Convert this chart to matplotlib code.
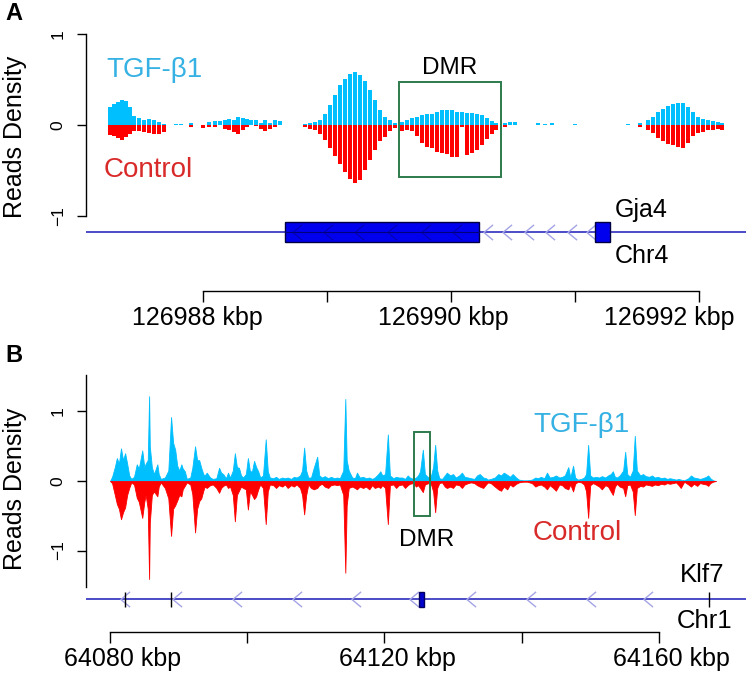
import matplotlib
matplotlib.use('Agg')
import matplotlib.pyplot as plt
import matplotlib.transforms as mtransforms
from matplotlib.path import Path
from matplotlib.patches import Rectangle

plt.rcParams['font.family'] = ['Liberation Sans', 'DejaVu Sans']

# ---------------- panel A data: Gja4 locus, Chr4 (kbp) ----------------
a_pos = [126987.250, 126987.282, 126987.315, 126987.347, 126987.379, 126987.411, 126987.444,
         126987.484, 126987.524, 126987.565, 126987.605, 126987.645, 126987.685, 126987.782,
         126987.823, 126987.903, 126988.000, 126988.048, 126988.097, 126988.137, 126988.177,
         126988.210, 126988.250, 126988.282, 126988.323, 126988.355, 126988.387, 126988.427,
         126988.468, 126988.500, 126988.540, 126988.581, 126988.621,
         126988.823, 126988.863, 126988.903, 126988.944, 126988.984, 126989.024, 126989.065,
         126989.105, 126989.145, 126989.185, 126989.226, 126989.266, 126989.306, 126989.347,
         126989.387, 126989.427, 126989.468, 126989.508, 126989.548,
         126989.605, 126989.645, 126989.685, 126989.726, 126989.766, 126989.806, 126989.847,
         126989.887, 126989.927, 126989.968, 126990.008, 126990.048, 126990.089, 126990.129,
         126990.169, 126990.210, 126990.250, 126990.290, 126990.331, 126990.363,
         126990.435, 126990.476, 126990.516, 126990.702, 126990.758, 126990.815, 126991.000,
         126991.427, 126991.524, 126991.589, 126991.629, 126991.669, 126991.710, 126991.750,
         126991.790, 126991.831, 126991.871, 126991.911, 126991.952, 126991.992, 126992.032,
         126992.073, 126992.113, 126992.153, 126992.185]
a_tgf = [0.20, 0.23, 0.25, 0.27, 0.26, 0.20, 0.10,
         0.08, 0.06, 0.07, 0.05, 0.03, 0.01, 0.01,
         0.01, 0.02, 0.00, 0.03, 0.04, 0.04, 0.06,
         0.07, 0.05, 0.09, 0.08, 0.07, 0.06, 0.05,
         0.02, 0.05, 0.02, 0.05, 0.04,
         0.01, 0.02, 0.03, 0.06, 0.12, 0.22, 0.33,
         0.44, 0.51, 0.56, 0.58, 0.55, 0.48, 0.38,
         0.27, 0.16, 0.09, 0.05, 0.02,
         0.03, 0.05, 0.08, 0.09, 0.11, 0.12, 0.12,
         0.14, 0.16, 0.17, 0.16, 0.14, 0.14, 0.13,
         0.13, 0.12, 0.11, 0.08, 0.04, 0.02,
         0.02, 0.03, 0.03, 0.02, 0.01, 0.02, 0.01,
         0.01, 0.02, 0.05, 0.09, 0.14, 0.18, 0.21,
         0.23, 0.24, 0.24, 0.20, 0.14, 0.09, 0.07,
         0.05, 0.04, 0.03, 0.02]
a_ctl = [-0.11, -0.12, -0.14, -0.16, -0.13, -0.10, -0.07,
         -0.07, -0.08, -0.09, -0.10, -0.10, -0.08, 0.00,
         0.00, -0.02, -0.03, -0.02, -0.02, 0.00, -0.04,
         -0.05, -0.08, -0.10, -0.06, -0.02, 0.00, -0.01,
         -0.04, -0.07, -0.04, -0.02, 0.00,
         -0.02, -0.04, -0.05, -0.10, -0.16, -0.25, -0.34,
         -0.43, -0.52, -0.59, -0.64, -0.60, -0.50, -0.39,
         -0.28, -0.18, -0.13, -0.07, -0.03,
         -0.07, -0.05, -0.07, -0.12, -0.20, -0.24, -0.25,
         -0.30, -0.31, -0.32, -0.35, -0.35, -0.02, -0.33,
         -0.31, -0.28, -0.22, -0.15, -0.10, -0.06,
         -0.02, 0.00, 0.00, 0.00, 0.00, 0.00, 0.00,
         0.00, -0.02, -0.05, -0.09, -0.14, -0.18, -0.21,
         -0.22, -0.24, -0.25, -0.20, -0.12, -0.09, -0.08,
         -0.06, -0.05, -0.04, -0.05]

a_exons = [(126988.661, 126990.226), (126991.161, 126991.282)]
a_arrows_out = [126990.298, 126990.452, 126990.629, 126990.798, 126990.976, 126991.129]
a_arrows_in = [126988.758, 126989.008, 126989.258, 126989.524, 126989.798, 126990.048]
a_dmr = (126989.58, 126990.40, -0.57, 0.47)
a_ticks = [126988, 126989, 126990, 126991, 126992]
a_ticklabels = ['126988 kbp', '', '126990 kbp', '', '126992 kbp']

# ---------------- panel B data: Klf7 locus, Chr1 (kbp) ----------------
b_pos = [64080.0, 64080.3, 64080.7, 64081.0, 64081.3, 64081.6, 64081.9, 64082.2, 64082.5, 64082.8,
         64083.1, 64083.5, 64083.9, 64084.2, 64084.7, 64085.0, 64085.2, 64085.5, 64085.7, 64085.8,
         64086.1, 64086.4, 64086.9, 64087.1, 64087.4, 64088.0, 64088.5, 64088.9, 64089.2, 64089.5,
         64089.8, 64090.1, 64090.4, 64090.6, 64090.9, 64091.2, 64091.7, 64092.0, 64092.4, 64092.7,
         64093.0, 64093.3, 64093.6, 64093.8, 64094.1, 64094.6, 64095.0, 64095.5, 64095.9, 64096.2,
         64096.5, 64096.9, 64097.2, 64097.5, 64097.9, 64098.2, 64098.5, 64098.8, 64099.1, 64099.4,
         64099.8, 64100.1, 64100.4, 64100.7, 64101.0, 64101.3, 64101.6, 64101.9, 64102.3, 64102.7,
         64103.0, 64103.3, 64103.8, 64104.2, 64104.6, 64105.1, 64105.5, 64105.9, 64106.4, 64106.8,
         64107.2, 64107.7, 64108.0, 64108.3, 64108.6, 64108.9, 64109.3, 64109.7, 64110.2, 64110.5,
         64110.9, 64111.3, 64111.8, 64112.2, 64112.7, 64113.1, 64113.5, 64114.0, 64114.3, 64114.5,
         64114.8, 64115.3, 64115.7, 64116.0, 64116.4, 64116.9, 64117.3, 64117.8, 64118.2, 64118.6,
         64119.1, 64119.4, 64119.7, 64120.1, 64120.5, 64120.8, 64121.3, 64121.7, 64122.1, 64122.6,
         64123.0, 64123.4, 64123.7, 64124.2, 64124.6, 64124.9, 64125.2, 64125.6, 64125.9, 64126.4,
         64126.8, 64127.1, 64127.4, 64127.7, 64128.0, 64128.4, 64128.8, 64129.1, 64129.6, 64130.0,
         64130.4, 64130.9, 64131.3, 64131.7, 64132.2, 64132.6, 64133.1, 64133.5, 64133.9, 64134.4,
         64134.8, 64135.1, 64135.5, 64136.1, 64136.6, 64137.0, 64137.4, 64137.9, 64138.3, 64138.7,
         64139.2, 64139.6, 64140.2, 64140.8, 64141.5, 64142.0, 64142.4, 64142.8, 64143.3, 64143.7,
         64144.1, 64144.6, 64145.0, 64145.5, 64145.9, 64146.3, 64146.8, 64147.1, 64147.5, 64147.8,
         64148.2, 64148.7, 64149.1, 64149.4, 64149.7, 64150.0, 64150.4, 64150.8, 64151.3, 64151.7,
         64152.2, 64152.6, 64153.0, 64153.3, 64153.6, 64153.9, 64154.3, 64154.8, 64155.1, 64155.4,
         64155.8, 64156.2, 64156.5, 64156.8, 64157.3, 64157.7, 64158.1, 64158.6, 64159.0, 64159.4,
         64159.9, 64160.3, 64160.8, 64161.2, 64161.6, 64162.1, 64162.5, 64162.9, 64163.2, 64163.7,
         64164.3, 64164.7, 64165.1, 64165.6, 64166.0, 64166.4, 64166.9, 64167.2, 64167.5, 64167.9,
         64168.3]
b_tgf = [0.00, 0.06, 0.20, 0.33, 0.25, 0.47, 0.30, 0.40, 0.25, 0.08,
         0.03, 0.06, 0.24, 0.18, 0.44, 0.20, 0.25, 0.30, 1.22, 0.50,
         0.20, 0.10, 0.24, 0.10, 0.03, 0.05, 0.15, 0.92, 0.55, 0.45,
         0.22, 0.15, 0.24, 0.18, 0.14, 0.03, 0.05, 0.19, 0.50, 0.30,
         0.30, 0.19, 0.10, 0.08, 0.12, 0.05, 0.03, 0.04, 0.19, 0.12,
         0.10, 0.04, 0.12, 0.05, 0.15, 0.40, 0.20, 0.19, 0.08, 0.05,
         0.10, 0.33, 0.14, 0.14, 0.29, 0.20, 0.14, 0.05, 0.08, 0.60,
         0.14, 0.05, 0.04, 0.06, 0.03, 0.05, 0.04, 0.05, 0.03, 0.06,
         0.05, 0.08, 0.15, 0.48, 0.15, 0.05, 0.05, 0.19, 0.35, 0.08,
         0.05, 0.07, 0.04, 0.06, 0.04, 0.05, 0.04, 0.15, 1.18, 0.30,
         0.15, 0.05, 0.04, 0.12, 0.05, 0.06, 0.04, 0.05, 0.03, 0.05,
         0.10, 0.14, 0.08, 0.10, 0.67, 0.08, 0.04, 0.06, 0.05, 0.05,
         0.03, 0.08, 0.05, 0.03, 0.05, 0.08, 0.14, 0.45, 0.10, 0.05,
         0.08, 0.20, 0.52, 0.15, 0.04, 0.03, 0.08, 0.12, 0.08, 0.10,
         0.05, 0.08, 0.12, 0.06, 0.05, 0.04, 0.03, 0.08, 0.10, 0.05,
         0.04, 0.02, 0.03, 0.05, 0.10, 0.08, 0.12, 0.09, 0.06, 0.10,
         0.05, 0.02, 0.01, 0.01, 0.02, 0.05, 0.04, 0.06, 0.04, 0.12,
         0.05, 0.06, 0.08, 0.05, 0.06, 0.08, 0.20, 0.05, 0.22, 0.05,
         0.02, 0.03, 0.05, 0.10, 0.52, 0.08, 0.05, 0.06, 0.05, 0.07,
         0.05, 0.08, 0.10, 0.14, 0.06, 0.05, 0.08, 0.15, 0.42, 0.10,
         0.06, 0.15, 0.65, 0.15, 0.08, 0.10, 0.07, 0.06, 0.08, 0.05,
         0.06, 0.04, 0.05, 0.03, 0.04, 0.03, 0.02, 0.03, 0.02, 0.01,
         0.04, 0.08, 0.05, 0.04, 0.03, 0.04, 0.06, 0.08, 0.04, 0.01,
         0.00]
b_ctl = [0.00, -0.03, -0.20, -0.33, -0.40, -0.55, -0.45, -0.38, -0.20, -0.10,
         -0.02, -0.05, -0.24, -0.30, -0.53, -0.30, -0.20, -0.40, -1.41, -0.60,
         -0.20, -0.15, -0.22, -0.08, -0.02, -0.10, -0.25, -0.79, -0.40, -0.35,
         -0.28, -0.20, -0.22, -0.12, -0.07, -0.02, -0.05, -0.19, -0.74, -0.40,
         -0.29, -0.25, -0.14, -0.08, -0.10, -0.06, -0.05, -0.10, -0.17, -0.10,
         -0.07, -0.05, -0.10, -0.08, -0.20, -0.58, -0.20, -0.14, -0.08, -0.10,
         -0.12, -0.41, -0.15, -0.20, -0.26, -0.22, -0.12, -0.05, -0.10, -0.62,
         -0.15, -0.05, -0.06, -0.10, -0.06, -0.08, -0.05, -0.10, -0.06, -0.08,
         -0.05, -0.10, -0.20, -0.48, -0.20, -0.05, -0.10, -0.12, -0.10, -0.06,
         -0.04, -0.08, -0.10, -0.06, -0.05, -0.06, -0.05, -0.20, -1.32, -0.35,
         -0.10, -0.08, -0.10, -0.12, -0.08, -0.10, -0.08, -0.12, -0.06, -0.10,
         -0.08, -0.10, -0.06, -0.10, -0.62, -0.06, -0.05, -0.10, -0.06, -0.05,
         -0.10, -0.06, -0.04, -0.03, -0.08, -0.06, -0.10, -0.16, -0.05, -0.03,
         -0.05, -0.15, -0.45, -0.10, -0.03, -0.02, -0.08, -0.10, -0.08, -0.10,
         -0.05, -0.06, -0.10, -0.05, -0.03, -0.02, -0.03, -0.06, -0.08, -0.10,
         -0.05, -0.02, -0.03, -0.08, -0.12, -0.14, -0.08, -0.12, -0.05, -0.08,
         -0.04, -0.02, -0.01, -0.01, -0.03, -0.08, -0.06, -0.05, -0.08, -0.12,
         -0.06, -0.10, -0.14, -0.05, -0.06, -0.10, -0.12, -0.05, -0.15, -0.04,
         -0.01, -0.02, -0.05, -0.15, -0.53, -0.06, -0.03, -0.05, -0.08, -0.12,
         -0.06, -0.08, -0.15, -0.20, -0.08, -0.04, -0.08, -0.10, -0.22, -0.06,
         -0.05, -0.15, -0.49, -0.10, -0.07, -0.08, -0.05, -0.06, -0.07, -0.05,
         -0.06, -0.04, -0.05, -0.03, -0.04, -0.03, -0.02, -0.06, -0.10, -0.01,
         -0.05, -0.08, -0.04, -0.07, -0.03, -0.04, -0.05, -0.07, -0.03, -0.01,
         0.00]

b_exon_ticks = [64082.2, 64088.9, 64167.3]
b_exon = (64125.0, 64125.8)
b_arrows = [64082.2, 64089.8, 64098.5, 64107.3, 64115.9, 64124.3, 64132.6, 64141.4, 64150.1, 64158.4]
b_dmr = (64124.3, 64126.65, -0.50, 0.705)
b_ticks = [64080, 64100, 64120, 64140, 64160]
b_ticklabels = ['64080 kbp', '', '64120 kbp', '', '64160 kbp']

# colours
c_tgf, c_ctl = '#00bfff', '#ff0000'
c_tgf_txt, c_ctl_txt = '#35b1e3', '#d92a2a'
c_dmr = '#2e7b4c'
c_gene = '#1a1ab8'
c_arrow = '#a4a4e6'

W, H = 750, 674
fig = plt.figure(figsize=(W / 100, H / 100), dpi=100)


def px_axes(x0, y0, x1, y1):
    return fig.add_axes([x0 / W, 1 - y1 / H, (x1 - x0) / W, (y1 - y0) / H])


chevron = Path([(0.6, 1.0), (-0.6, 0.0), (0.6, -1.0)],
               [Path.MOVETO, Path.LINETO, Path.LINETO])


def style_axes(ax, ybound, xaxis_y, ticks, ticklabels, label_shift):
    for s in ['top', 'right']:
        ax.spines[s].set_visible(False)
    ax.spines['left'].set_bounds(*ybound)
    ax.spines['bottom'].set_position(('data', xaxis_y))
    ax.spines['bottom'].set_bounds(ticks[0], ticks[-1])
    for s in ['left', 'bottom']:
        ax.spines[s].set_linewidth(1.0)
    ax.set_yticks([-1, 0, 1])
    ax.set_yticklabels(['\u22121', '0', '1'], rotation=90, va='center', fontsize=12.5)
    ax.set_xticks(ticks)
    ax.set_xticklabels(ticklabels, fontsize=18)
    ax.tick_params(axis='y', direction='out', length=6.5, width=1.0, pad=8)
    ax.tick_params(axis='x', direction='out', length=8, width=1.0, pad=2.5)
    # the genome-axis labels sit slightly off their ticks in the original
    for lab, dx in zip(ax.get_xticklabels(), label_shift):
        lab.set_transform(lab.get_transform() +
                          mtransforms.ScaledTranslation(dx / 100, 0, fig.dpi_scale_trans))
    ax.patch.set_visible(False)


# ---------------- panel A ----------------
axA = px_axes(86, 20, 746, 330)
axA.set_xlim(126987.056, 126992.379)
axA.set_ylim(-2.253, 1.154)
axA.bar(a_pos, a_tgf, width=0.036, color=c_tgf, linewidth=0, align='center')
axA.bar(a_pos, a_ctl, width=0.036, color=c_ctl, linewidth=0, align='center')
axA.add_patch(Rectangle((a_dmr[0], a_dmr[2]), a_dmr[1] - a_dmr[0], a_dmr[3] - a_dmr[2],
                        fill=False, edgecolor=c_dmr, lw=1.4))
axA.text((a_dmr[0] + a_dmr[1]) / 2, 0.63, 'DMR', ha='center', va='center', fontsize=17.5)
axA.text(126987.61, 0.60, 'TGF-\u03b21', color=c_tgf_txt, ha='center', va='center', fontsize=20)
axA.text(126987.56, -0.50, 'Control', color=c_ctl_txt, ha='center', va='center', fontsize=20)
# gene track
yA = -1.176
axA.axhline(yA, color=c_gene, lw=1.1, zorder=1)
axA.plot(a_arrows_out, [yA] * len(a_arrows_out), ls='none', marker=chevron, ms=11,
         mfc='none', mec=c_arrow, mew=1.0, zorder=2)
for x0, x1 in a_exons:
    axA.add_patch(Rectangle((x0, -1.286), x1 - x0, 0.22, facecolor='#0000ee',
                            edgecolor='#000040', lw=1.0, zorder=3))
axA.plot(a_arrows_in, [yA] * len(a_arrows_in), ls='none', marker=chevron, ms=11,
         mfc='none', mec='#0000b0', mew=0.8, zorder=4)
axA.plot([a_exons[0][0], a_exons[0][1]], [yA, yA], color='#00007a', lw=0.8, zorder=4)
axA.text(126991.32, -0.93, 'Gja4', ha='left', va='center', fontsize=18)
axA.text(126991.32, -1.44, 'Chr4', ha='left', va='center', fontsize=18)
style_axes(axA, (-1, 1), -1.824, a_ticks, a_ticklabels, [-6, 0, -8, 0, -30])

# ---------------- panel B ----------------
axB = px_axes(86, 365, 746, 672)
axB.set_xlim(64076.50, 64172.71)
axB.set_ylim(-2.748, 1.669)
axB.fill_between(b_pos, 0, b_tgf, color=c_tgf, lw=0.6, edgecolor=c_tgf)
axB.fill_between(b_pos, 0, b_ctl, color=c_ctl, lw=0.6, edgecolor=c_ctl)
axB.add_patch(Rectangle((b_dmr[0], b_dmr[2]), b_dmr[1] - b_dmr[0], b_dmr[3] - b_dmr[2],
                        fill=False, edgecolor=c_dmr, lw=1.4))
axB.text(64126.2, -0.85, 'DMR', ha='center', va='center', fontsize=17.5)
axB.text(64148.66, 0.81, 'TGF-\u03b21', color=c_tgf_txt, ha='center', va='center', fontsize=20)
axB.text(64148.1, -0.75, 'Control', color=c_ctl_txt, ha='center', va='center', fontsize=20)
yB = -1.698
axB.axhline(yB, color=c_gene, lw=1.1, zorder=1)
axB.plot(b_arrows, [yB] * len(b_arrows), ls='none', marker=chevron, ms=11,
         mfc='none', mec=c_arrow, mew=1.0, zorder=2)
axB.vlines(b_exon_ticks, -1.813, -1.597, color='black', lw=1.0, zorder=3)
axB.add_patch(Rectangle((b_exon[0], -1.813), b_exon[1] - b_exon[0], 0.216,
                        facecolor='#0000cc', edgecolor='#000060', lw=1.0, zorder=3))
axB.text(64163.1, -1.35, 'Klf7', ha='left', va='center', fontsize=18.5)
axB.text(64162.65, -2.01, 'Chr1', ha='left', va='center', fontsize=18.5)
style_axes(axB, (-1.525, 1.525), -2.173, b_ticks, b_ticklabels, [13, 0, 13, 0, 13])

# panel letters and y labels
fig.text(14 / W, 1 - 14 / H, 'A', fontsize=17, fontweight='bold', ha='center', va='center')
fig.text(14 / W, 1 - 355 / H, 'B', fontsize=17, fontweight='bold', ha='center', va='center')
fig.text(15 / W, 1 - 137 / H, 'Reads Density', rotation=90, fontsize=18, ha='center', va='center')
fig.text(15 / W, 1 - 489 / H, 'Reads Density', rotation=90, fontsize=18, ha='center', va='center')

fig.savefig('out.png', dpi=100)
